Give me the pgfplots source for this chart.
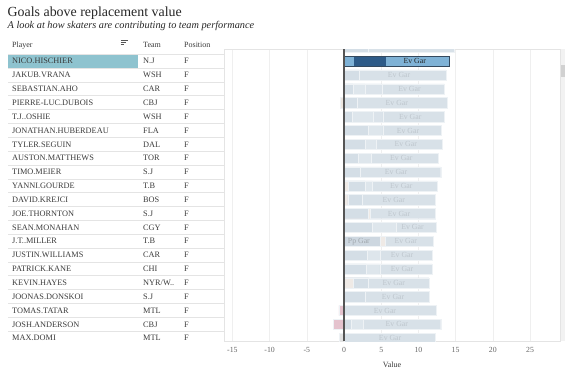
\documentclass[border=0pt]{standalone}
\usepackage{fontspec}
\setmainfont{Liberation Serif}
\usepackage{pgfplots}
\usepackage{pgfplotstable}
\pgfplotsset{compat=1.18}

\definecolor{txt}{HTML}{3A3A3A}
\definecolor{gridc}{HTML}{E4E4E4}
\definecolor{hlrow}{HTML}{8EC3CF}
\definecolor{segev}{HTML}{D8E1E8}
\definecolor{sega}{HTML}{D4DEE6}
\definecolor{segb}{HTML}{DEE6EC}
\definecolor{segc}{HTML}{DBE3EA}
\definecolor{segpp}{HTML}{CDD7E0}
\definecolor{segbeige}{HTML}{EFEAE6}
\definecolor{segedge}{HTML}{EEF2F5}
\definecolor{hllight}{HTML}{7FB2D6}
\definecolor{hldark}{HTML}{2E5B88}
\definecolor{hledge}{HTML}{34495E}
\definecolor{negpink}{HTML}{E5C3CE}
\definecolor{negbeige}{HTML}{ECE6E0}
\definecolor{neggrey}{HTML}{E2E2E2}
\definecolor{lbl}{HTML}{BEC6CD}
\definecolor{zeroc}{HTML}{555555}

% cumulative segment ends (painted from longest to shortest)
\pgfplotstableread{
row ev   gap c   b   a   bg
-1  14.8 nan nan nan 3.3 nan
1   13.7 nan nan nan 2.0 nan
2   13.5 nan 5.1 2.8 1.2 nan
3   13.9 nan nan nan 1.8 nan
4   13.5 nan 5.2 3.9 1.1 nan
5   13.1 nan nan 5.2 3.3 nan
6   13.2 nan nan 4.3 2.8 nan
7   12.7 nan nan 3.6 1.9 nan
8   13.0 nan nan nan 2.2 nan
9   12.5 nan nan 3.8 2.8 0.6
10  12.3 nan nan nan 2.4 0.5
11  12.3 3.5 nan nan 3.3 nan
12  12.4 nan nan 7.0 3.8 nan
13  12.0 5.5 nan nan nan nan
14  11.9 nan nan 4.9 3.1 nan
15  11.8 nan nan 4.8 3.0 nan
16  11.4 nan nan nan 3.3 1.2
17  11.5 nan nan nan 2.8 nan
18  12.4 nan nan nan nan nan
19  13.0 nan nan 2.6 1.0 nan
20  12.3 nan nan nan nan nan
}\segs

% label positions (Ev Gar)
\pgfplotstableread{
row x
1  7.4
2  8.8
3  7.1
4  8.9
5  8.6
6  8.3
7  7.7
8  7.0
9  7.7
10 6.7
11 7.4
12 9.2
13 8.3
14 7.8
15 7.8
16 6.7
17 6.6
18 5.5
19 7.1
20 6.2
}\labs

\newcommand\cell[2]{\makebox[131pt][l]{#1}\makebox[41pt][l]{#2}F}

\begin{document}
\begin{tikzpicture}[x=1pt,y=1pt]
\useasboundingbox (0,0) rectangle (575,371);

% titles
\node[anchor=base west, inner sep=0pt, text=black!85] at (7.5,354)
  {\fontsize{13.9}{16}\selectfont Goals above replacement value};
\node[anchor=base west, inner sep=0pt, text=black!85] at (7.5,342.5)
  {\fontsize{10.3}{12}\selectfont\itshape A look at how skaters are contributing to team performance};
% header
\begin{scope}[every node/.style={anchor=base west, inner sep=0pt, text=txt, font=\fontsize{8}{9}\selectfont}]
\node at (12,323.5) {Player};
\node at (143,323.5) {Team};
\node at (184,323.5) {Position};
\end{scope}
\draw[zeroc, line width=0.7pt] (120.5,331) -- (128,331);
\draw[zeroc, line width=0.7pt] (120.5,328.6) -- (126,328.6);
\draw[zeroc, line width=0.7pt] (120.5,326.2) -- (123.5,326.2);

% scrollbar
\fill[black!5] (560.5,30) rectangle (565,321.5);
\fill[black!18] (561,294) rectangle (564.5,306);

% table
\begin{axis}[
  at={(8pt,30pt)}, anchor=south west, scale only axis,
  width=216pt, height=286.7pt,
  xmin=0, xmax=216, ymin=-0.5, ymax=20.2, y dir=reverse,
  axis on top,
  xtick=\empty,
  ytick={0,...,20},
  minor ytick={-0.5,0.5,...,20.5},
  yminorgrids,
  minor grid style={draw=gridc, line width=0.9pt},
  axis line style={draw=none},
  major tick length=0pt, minor tick length=0pt,
  yticklabel style={anchor=west, inner sep=0pt, xshift=4pt, text=txt,
    font=\fontsize{8.3}{9}\selectfont},
  yticklabels={
    {\cell{NICO.HISCHIER}{N.J}},
    {\cell{JAKUB.VRANA}{WSH}},
    {\cell{SEBASTIAN.AHO}{CAR}},
    {\cell{PIERRE-LUC.DUBOIS}{CBJ}},
    {\cell{T.J..OSHIE}{WSH}},
    {\cell{JONATHAN.HUBERDEAU}{FLA}},
    {\cell{TYLER.SEGUIN}{DAL}},
    {\cell{AUSTON.MATTHEWS}{TOR}},
    {\cell{TIMO.MEIER}{S.J}},
    {\cell{YANNI.GOURDE}{T.B}},
    {\cell{DAVID.KREJCI}{BOS}},
    {\cell{JOE.THORNTON}{S.J}},
    {\cell{SEAN.MONAHAN}{CGY}},
    {\cell{J.T..MILLER}{T.B}},
    {\cell{JUSTIN.WILLIAMS}{CAR}},
    {\cell{PATRICK.KANE}{CHI}},
    {\cell{KEVIN.HAYES}{NYR/W..}},
    {\cell{JOONAS.DONSKOI}{S.J}},
    {\cell{TOMAS.TATAR}{MTL}},
    {\cell{JOSH.ANDERSON}{CBJ}},
    {\cell{MAX.DOMI}{MTL}}
  },
]
\addplot[xbar, bar width=0.94, bar shift=0pt, fill=hlrow, draw=none] coordinates {(130,0)};
\end{axis}

% bars
\begin{axis}[
  at={(224pt,30pt)}, anchor=south west, scale only axis,
  width=336pt, height=291.5pt,
  xmin=-16.13, xmax=29.03, ymin=-0.85, ymax=20.2, y dir=reverse,
  xtick={-15,-10,...,25}, ytick=\empty,
  minor ytick={-1.5,-0.5,...,20.5},
  xmajorgrids, yminorgrids,
  major grid style={draw=gridc!60, line width=0.5pt},
  minor grid style={draw=gridc, line width=0.9pt},
  axis line style={draw=gridc, line width=0.8pt},
  major tick length=0pt, minor tick length=0pt,
  xticklabel style={font=\fontsize{7.8}{9}\selectfont, text=black!60, yshift=-3pt},
  /pgf/number format/assume math mode=true,
  xlabel={Value},
  xlabel style={font=\fontsize{8}{9}\selectfont, text=txt, yshift=-2pt},
  seg/.style={xbar, bar width=0.74, bar shift=0pt, draw=segedge, line width=0.4pt, fill=#1},
]
\addplot[seg=segev]    table[x=ev,  y=row] {\segs};
\addplot[seg=segbeige] table[x=gap, y=row] {\segs};
\addplot[seg=segc]     table[x=c,   y=row] {\segs};
\addplot[seg=segb]     table[x=b,   y=row] {\segs};
\addplot[seg=sega]     table[x=a,   y=row] {\segs};
\addplot[seg=segbeige] table[x=bg,  y=row] {\segs};
% Pp Gar segment (J.T. Miller)
\addplot[seg=segpp] coordinates {(4.9,13)};
% negatives
\addplot[seg=negbeige] coordinates {(-0.5,3)};
\addplot[seg=negpink]  coordinates {(-0.7,18) (-1.4,19)};
\addplot[seg=neggrey]  coordinates {(-0.7,20)};
% highlighted row
\addplot[xbar, bar width=0.74, bar shift=0pt, fill=hllight, draw=none] coordinates {(14.2,0)};
\addplot[xbar, bar width=0.74, bar shift=0pt, fill=hldark, draw=none] coordinates {(5.6,0)};
\addplot[xbar, bar width=0.74, bar shift=0pt, fill=hllight, draw=none] coordinates {(1.4,0)};
\addplot[xbar, bar width=0.74, bar shift=0pt, fill=none, draw=hledge, line width=0.8pt] coordinates {(14.2,0)};
% labels
\addplot[draw=none, nodes near coords={Ev Gar}, nodes near coords align=center,
  every node near coord/.append style={font=\fontsize{7.8}{9}\selectfont, text=lbl, inner sep=0pt}]
  table[x=x, y=row] {\labs};
\addplot[draw=none, nodes near coords={Pp Gar}, nodes near coords align=center,
  every node near coord/.append style={font=\fontsize{7.8}{9}\selectfont, text=lbl!85!black, inner sep=0pt}]
  coordinates {(2.0,13)};
\addplot[draw=none, nodes near coords={Ev Gar}, nodes near coords align=center,
  every node near coord/.append style={font=\fontsize{7.8}{9}\selectfont, text=black!85, inner sep=0pt}]
  coordinates {(9.5,0)};
% zero line
\addplot[zeroc, line width=1.1pt] coordinates {(0,-0.85) (0,20.2)};
\end{axis}
\end{tikzpicture}
\end{document}
